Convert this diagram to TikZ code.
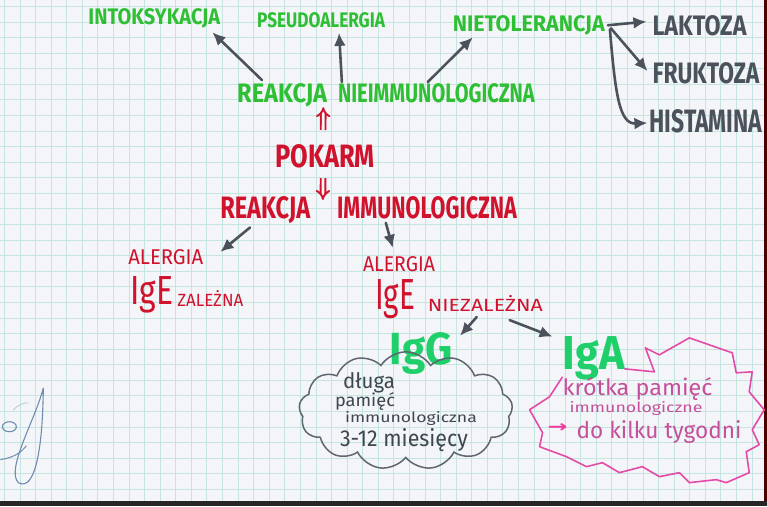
\documentclass[tikz,border=0pt]{standalone}
\usepackage{fontspec}
\setmainfont{Fira Sans}
\newfontfamily\dejavu{DejaVu Sans}
\usepackage{graphicx}
\usetikzlibrary{arrows.meta,shapes.symbols}
\definecolor{paper}{HTML}{F4F5F8}
\definecolor{gridc}{HTML}{C6E4E0}
\definecolor{hwgreen}{HTML}{2FBF35}
\definecolor{hwred}{HTML}{D0122D}
\definecolor{hwgray}{HTML}{4B525B}
\definecolor{iggreen}{HTML}{1ECF6A}
\definecolor{hwpink}{HTML}{E64AA8}
\definecolor{pinktext}{HTML}{C4509C}
\definecolor{arrowpink}{HTML}{F03A9C}
\definecolor{cloudtext}{HTML}{3E4650}
\definecolor{cloudline}{HTML}{5E6670}
\definecolor{scribble}{HTML}{6F8CB0}
\newcommand\hwt[3]{\resizebox{#1pt}{#2pt}{#3}}
\begin{document}
\begin{tikzpicture}[x=1pt,y=-1pt,
  lbl/.style={inner sep=0pt, anchor=base west},
  thick marker/.style={font=\bfseries},
  conn/.style={draw=hwgray, line width=2.6pt, line cap=round, -{Latex[length=13pt,width=12pt]}},
  dblarrow/.style={draw=hwred, line width=1.9pt, double=paper, double distance=2.8pt, -{Implies}},
  gridline/.style={draw=gridc, line width=0.8pt}]
% paper
\fill[paper] (0,0) rectangle (768,506);
\foreach \i in {0,...,49} {\draw[gridline] (4+15.6*\i,0) -- (4+15.6*\i,506);}
\foreach \j in {0,...,32} {\draw[gridline] (0,6+15.6*\j) -- (768,6+15.6*\j);}
\fill[black!85] (0,501) rectangle (768,506);
\fill[black!70!red] (765,0) rectangle (768,501);
\useasboundingbox (0,0) rectangle (768,506);

% top green row
\node[lbl, thick marker, text=hwgreen] (intox)  at (88,24)  {\hwt{132}{16}{INTOKSYKACJA}};
\node[lbl, thick marker, text=hwgreen] (pseudo) at (257,27) {\hwt{128}{15}{PSEUDOALERGIA}};
\node[lbl, thick marker, text=hwgreen] (nietol) at (453,31) {\hwt{152}{16}{NIETOLERANCJA}};
\node[lbl, thick marker, text=hwgreen] (rn1)    at (237,102){\hwt{90}{19}{REAKCJA}};
\node[lbl, thick marker, text=hwgreen] (rn2)    at (338,102){\hwt{197}{19}{NIEIMMUNOLOGICZNA}};

% right grey words
\node[lbl, thick marker, text=hwgray] (laktoza)   at (653,35)  {\hwt{94}{20}{LAKTOZA}};
\node[lbl, thick marker, text=hwgray] (fruktoza)  at (653,83)  {\hwt{107}{21}{FRUKTOZA}};
\node[lbl, thick marker, text=hwgray] (histamina) at (650,132) {\hwt{113}{23}{HISTAMINA}};

% red centre
\node[lbl, thick marker, text=hwred] (pokarm) at (275,167) {\hwt{100}{23}{POKARM}};
\node[lbl, thick marker, text=hwred] (ri1) at (220,218) {\hwt{90}{22}{REAKCJA}};
\node[lbl, thick marker, text=hwred] (ri2) at (337,218) {\hwt{180}{22}{IMMUNOLOGICZNA}};
\draw[dblarrow] ([shift={(-2,-14)}]pokarm.north) -- ([shift={(-4,5)}]rn1.base east);
\draw[dblarrow] ([shift={(-2,11)}]pokarm.base) -- ([shift={(-14,4)}]ri2.north west);

% allergy branches
\node[lbl, text=hwred] (alergiaL) at (128,265) {\hwt{75}{15}{ALERGIA}};
\node[lbl, text=hwred] (igeL)     at (130,305) {\hwt{43}{28}{IgE}};
\node[lbl, text=hwred] (zalL)     at (177,307) {\hwt{66}{16}{ZALEŻNA}};
\node[lbl, text=hwred] (alergiaR) at (363,272) {\hwt{72}{15}{ALERGIA}};
\node[lbl, text=hwred] (igeR)     at (375,310) {\hwt{40}{30}{IgE}};
\node[lbl, text=hwred] (niezal)   at (428,312) {\hwt{115}{16}{NIEZALEŻNA}};

% IgG / IgA
\node[lbl, thick marker, text=iggreen] (igg) at (390,365) {\hwt{63}{32}{IgG}};
\node[lbl, thick marker, text=iggreen] (iga) at (563,370) {\hwt{62}{33}{IgA}};

% cloud
\node[cloud, draw=cloudline, line width=1.5pt, cloud puffs=13, cloud puff arc=115,
      aspect=1.9, minimum width=214pt, minimum height=118pt, inner sep=0pt] (cloud) at (406,411) {};
\node[lbl, text=cloudtext] (c1) at (343,389) {\hwt{52}{16}{długa}};
\node[lbl, text=cloudtext] (c2) at (335,407) {\hwt{60}{14}{pamięć}};
\node[lbl, text=cloudtext] (c3) at (345,423) {\hwt{132}{11}{immunologiczna}};
\node[lbl, text=cloudtext] (c4) at (340,447) {\hwt{128}{18}{3-12 miesięcy}};

% pink star
\draw[hwpink, line width=1.6pt, line join=round]
  (625,369) -- (655,372) -- (646,348) -- (660,355) -- (690,338) -- (733,353) --
  (737,373) -- (753,372) -- (750,392) -- (765,410) -- (753,430) -- (760,445) --
  (747,452) -- (750,473) -- (727,483) -- (717,480) -- (690,483) -- (680,473) --
  (660,477) -- (643,467) -- (620,473) -- (603,463) -- (587,467) -- (567,457) --
  (540,447) -- (543,433) -- (530,410) -- (550,397) -- (563,377);
\node[lbl, text=pinktext] (s1) at (563,396) {\hwt{150}{18}{krótka pamięć}};
\node[lbl, text=pinktext] (s2) at (570,413) {\hwt{133}{11}{immunologiczne}};
\node[inner sep=0pt, text=arrowpink, font=\dejavu\bfseries] (s3) at (558,428) {\hwt{20}{9}{→}};
\node[lbl, text=pinktext] (s4) at (577,439) {\hwt{165}{18}{do kilku tygodni}};

% connectors
\draw[conn] ([shift={(25,-3)}]rn1.north west) -- ([shift={(-8,4)}]intox.south east);
\draw[conn] ([shift={(4,-1)}]rn2.north west) -- ([shift={(18,5)}]pseudo.south);
\draw[conn] ([shift={(90,-1)}]rn2.north west) -- ([shift={(20,2)}]nietol.south west);
\draw[conn] ([shift={(30,4)}]ri1.south west) -- ([shift={(17,2)}]alergiaL.north east);
\draw[conn] ([shift={(49,4)}]ri2.south west) -- ([shift={(30,-9)}]alergiaR.north west);
\draw[conn] ([shift={(49,5)}]niezal.south west) -- ([shift={(7,3)}]igg.north east);
\draw[conn] ([shift={(82,8)}]niezal.south west) -- ([shift={(-10,0)}]iga.north west);
\draw[conn] ([shift={(3,0)}]nietol.east) -- ([shift={(-6,-4)}]laktoza.west);
\draw[conn] ([shift={(6,3)}]nietol.east) -- ([shift={(-5,-2)}]fruktoza.west);
\draw[conn] ([shift={(5,4)}]nietol.east) .. controls (616,95) and (620,124) .. ([shift={(-2,2)}]histamina.west);

% scribble bottom-left
\draw[scribble, line width=1.1pt] (43,388) .. controls (35,420) and (5,470) .. (18,483)
      .. controls (30,490) and (42,470) .. (43,388);
\draw[scribble, line width=1.1pt] (9,427) ellipse [x radius=7, y radius=5];
\draw[scribble, line width=1pt] (0,460) .. controls (12,458) and (20,454) .. (26,446);
\draw[scribble!50, line width=0.8pt] (13,410) .. controls (18,405) and (23,403) .. (28,403);
\end{tikzpicture}
\end{document}
